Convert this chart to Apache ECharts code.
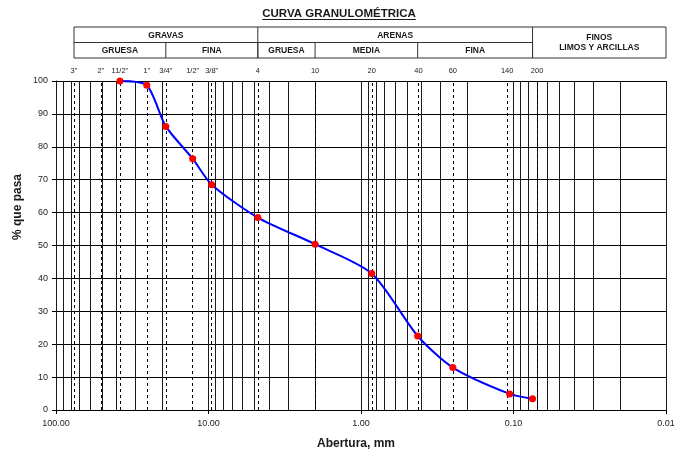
<!DOCTYPE html>
<html>
<head>
<meta charset="utf-8">
<script src="https://cdn.jsdelivr.net/npm/echarts@6/dist/echarts.min.js"></script>
<style>
  html, body { margin: 0; padding: 0; background: #ffffff; }
  #chart { width: 688px; height: 450px; }
</style>
</head>
<body>
<div id="chart"></div>
<script>
// Sieve series (ASTM) and percent passing
const sieveLabels = ['3"', '2"', '11/2"', '1"', '3/4"', '1/2"', '3/8"', '4', '10', '20', '40', '60', '140', '200'];
const sieveSizes  = [76.2, 50.8, 38.1, 25.4, 19.05, 12.7, 9.525, 4.75, 2.0, 0.85, 0.425, 0.25, 0.106, 0.075];
const passing     = [null, null, 100, 98.7, 86.2, 76.4, 68.5, 58.5, 50.4, 41.5, 22.5, 12.9, 4.9, 3.4];

// Soil classification bands (limits in mm)
const bandTop = [
  { text: 'GRAVAS', from: 76.2, to: 4.75 },
  { text: 'ARENAS', from: 4.75, to: 0.075 }
];
const bandSub = [
  { text: 'GRUESA', from: 76.2, to: 19.05 },
  { text: 'FINA',   from: 19.05, to: 4.75 },
  { text: 'GRUESA', from: 4.75, to: 2.0 },
  { text: 'MEDIA',  from: 2.0, to: 0.425 },
  { text: 'FINA',   from: 0.425, to: 0.075 }
];
const finesBand = { lines: ['FINOS', 'LIMOS Y ARCILLAS'], from: 0.075, to: 0.01 };

const xMin = 0.01, xMax = 100;

// Log-cycle grid lines: 1..9 x 10^k across the axis range
const logGrid = [];
for (let e = -2; e <= 1; e++) {
  for (let m = 1; m <= 9; m++) logGrid.push(Number((m * Math.pow(10, e)).toPrecision(6)));
}
logGrid.push(100);

const curve = [];
sieveSizes.forEach((s, i) => { if (passing[i] !== null) curve.push([s, passing[i]]); });

const FONT = '"Liberation Sans", Arial, sans-serif';
const chart = echarts.init(document.getElementById('chart'), null, { renderer: 'canvas' });

chart.setOption({
  animation: false,
  backgroundColor: '#ffffff',
  grid: { left: 56, right: 22, top: 81, bottom: 40, containLabel: false, outerBoundsMode: 'none' },
  xAxis: {
    type: 'log',
    logBase: 10,
    min: xMin,
    max: xMax,
    inverse: true,
    name: 'Abertura, mm',
    nameLocation: 'middle',
    nameGap: 28,
    nameTextStyle: { fontFamily: FONT, fontSize: 12, fontWeight: 'bold', color: '#1a1a1a', padding: [0, 10, 0, 0] },
    axisLine: { lineStyle: { color: '#000', width: 1 } },
    axisTick: { show: true, length: 4, lineStyle: { color: '#000' } },
    axisLabel: {
      fontFamily: FONT, fontSize: 9, color: '#222', margin: 9,
      formatter: v => Number(v).toFixed(2)
    },
    splitLine: { show: false }
  },
  yAxis: {
    type: 'value',
    min: 0, max: 100, interval: 10,
    axisLine: { show: true, lineStyle: { color: '#000', width: 1 } },
    axisTick: { show: true, length: 4, lineStyle: { color: '#000' } },
    axisLabel: { fontFamily: FONT, fontSize: 9, color: '#222', margin: 8 },
    splitLine: { show: true, lineStyle: { color: '#000', width: 1 } }
  },
  series: [
    {
      // carrier for the log grid and the sieve reference lines
      type: 'line',
      data: curve,
      z: 1,
      silent: true,
      symbol: 'none',
      lineStyle: { opacity: 0 },
      markLine: {
        silent: true,
        symbol: 'none',
        animation: false,
        label: { show: false },
        lineStyle: { color: '#1a1a1a', width: 1, type: 'solid' },
        data: logGrid.map(v => ({ xAxis: v })).concat(
          sieveSizes.map((s, i) => ({
            xAxis: s,
            name: sieveLabels[i],
            lineStyle: { color: '#000', width: 1, type: [3, 3] },
            label: {
              show: true, position: 'end', distance: 6,
              formatter: sieveLabels[i],
              fontFamily: FONT, fontSize: 7.5, color: '#222'
            }
          }))
        )
      }
    },
    {
      name: '% que pasa',
      type: 'line',
      data: curve,
      z: 5,
      smooth: 0.25,
      symbol: 'circle',
      symbolSize: 7,
      lineStyle: { color: '#0000ff', width: 2 },
      itemStyle: { color: '#ff0000' }
    }
  ]
});

// Header table, title and y-axis name, laid out on the axis scale
const px = v => chart.convertToPixel({ xAxisIndex: 0 }, v);
const yTop = 27, yMid = 42.5, yBot = 58;
const left = px(76.2), right = px(xMin);
const stroke = { stroke: '#333', lineWidth: 1 };
const g = [];
const hLine = (x1, x2, y) => g.push({ type: 'line', shape: { x1, y1: y, x2, y2: y }, style: stroke, z: 10 });
const vLine = (x, y1, y2) => g.push({ type: 'line', shape: { x1: x, y1, x2: x, y2 }, style: stroke, z: 10 });
const label = (text, x, y, size) => g.push({
  type: 'text', x, y, z: 11,
  style: { text, fill: '#1a1a1a', font: 'bold ' + size + 'px ' + FONT, align: 'center', verticalAlign: 'middle' }
});

hLine(left, right, yTop);
hLine(left, right, yBot);
hLine(left, px(finesBand.from), yMid);
vLine(left, yTop, yBot);
vLine(right, yTop, yBot);
bandTop.forEach(b => {
  vLine(px(b.to), yTop, yBot);
  label(b.text, (px(b.from) + px(b.to)) / 2, (yTop + yMid) / 2 + 0.5, 8.5);
});
bandSub.forEach(b => {
  vLine(px(b.to), yMid, yBot);
  label(b.text, (px(b.from) + px(b.to)) / 2, (yMid + yBot) / 2 + 0.5, 8.5);
});
const fx = (px(finesBand.from) + px(finesBand.to)) / 2;
label(finesBand.lines[0], fx, 38, 8.5);
label(finesBand.lines[1], fx, 47.5, 8.5);

// Title with underline
const titleText = 'CURVA GRANULOMÉTRICA';
const titleFont = 'bold 11.5px ' + FONT;
const ctx = document.createElement('canvas').getContext('2d');
ctx.font = titleFont;
const tw = ctx.measureText(titleText).width;
const tx = 339, ty = 13.5;
g.push({ type: 'text', x: tx, y: ty, z: 11,
  style: { text: titleText, fill: '#1a1a1a', font: titleFont, align: 'center', verticalAlign: 'middle' } });
g.push({ type: 'line', shape: { x1: tx - tw / 2, y1: ty + 6, x2: tx + tw / 2, y2: ty + 6 },
  style: { stroke: '#1a1a1a', lineWidth: 1 }, z: 11 });

// Y-axis name
g.push({ type: 'text', x: 18, y: 207, rotation: Math.PI / 2, z: 11,
  style: { text: '% que pasa', fill: '#1a1a1a', font: 'bold 12px ' + FONT, align: 'center', verticalAlign: 'middle' } });

chart.setOption({ graphic: g });
</script>
</body>
</html>
